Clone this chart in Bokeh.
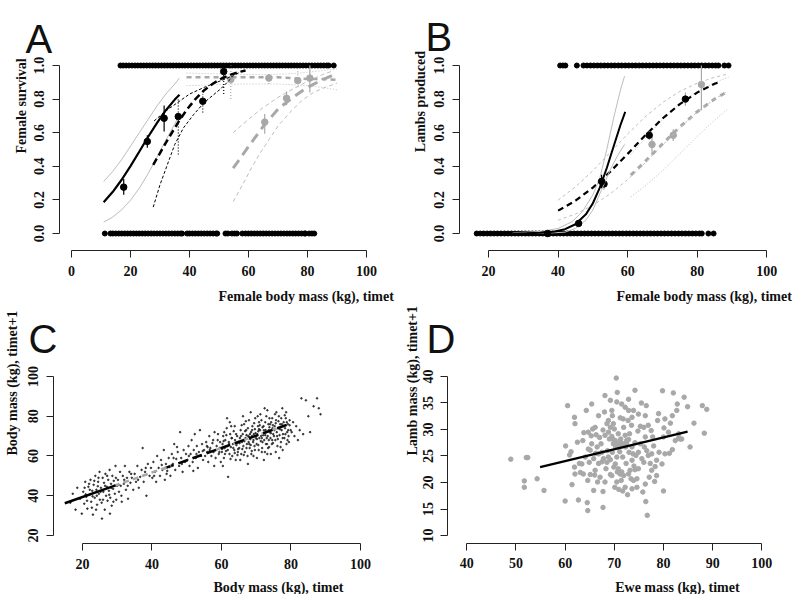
import math
from bokeh.plotting import figure
from bokeh.models import Range1d, FixedTicker, PrintfTickFormatter, Label
from bokeh.layouts import gridplot
from bokeh.embed import file_html
from bokeh.resources import INLINE

SERIF = "Liberation Serif"
SANS = "Liberation Sans"
BLACK = "#000000"
GREY = "#a8a8a8"
LGREY = "#bdbdbd"

# ======================= Panel A: female survival =======================
A_alive_x = [16.6, 17.5, 18.5, 19.5, 20.5, 21.5, 22.5, 23.5, 24.5, 25.5, 26.5, 27.5, 28.5, 29.5,
             30.5, 31.5, 32.5, 33.5, 34.5, 35.5, 36.5, 37.5, 38.5, 39.5, 40.5, 41.5, 42.5, 43.5,
             44.5, 45.5, 46.5, 47.5, 48.5, 49.5, 50.5, 51.5, 52.5, 53.5, 54.5, 55.5, 56.5, 57.5,
             58.5, 59.5, 60.5, 61.5, 62.5, 63.5, 64.5, 65.5, 66.5, 67.5, 68.5, 69.5, 70.5, 71.5,
             72.5, 73.5, 74.5, 75.5, 76.5, 77.5, 78.5, 79.5, 80.5, 81.5, 82.5, 83.5, 84.5, 85.5,
             86.5, 87.2, 88.9]
A_dead_x = [11.3, 13.2, 14, 15, 16, 17, 18, 19, 20, 21, 22, 23, 24, 25, 26, 27, 28, 29, 30, 31,
            32, 33, 34, 35, 36, 37, 37.5, 39.2, 40, 41, 42, 43, 44, 45, 46, 47, 48, 49, 49.4,
            52.2, 53, 54.4, 55.3, 56.1, 57.9, 59, 60, 61, 62, 63, 64, 65, 66, 67, 68, 69, 70, 71,
            72, 73, 74, 75, 76, 77, 78, 79, 79.3, 80.6, 81.5, 82.3]
A_lamb_x = [10.9, 14, 17, 20, 23, 26, 29, 32, 35, 36.6]
A_lamb_y = [0.186, 0.248, 0.320, 0.401, 0.488, 0.576, 0.659, 0.734, 0.797, 0.826]
A_lamb_hi = [0.31, 0.37, 0.44, 0.52, 0.60, 0.68, 0.76, 0.83, 0.89, 0.925]
A_lamb_lo = [0.068, 0.098, 0.141, 0.198, 0.270, 0.357, 0.455, 0.556, 0.653, 0.70]
A_year_x = [27.7, 30, 33, 36, 39, 42, 45, 48, 51, 54, 57, 59]
A_year_y = [0.409, 0.479, 0.570, 0.657, 0.735, 0.800, 0.853, 0.893, 0.924, 0.946, 0.962, 0.970]
A_year_lo_x = [27.7, 30, 32.5, 35, 38, 41.5, 45, 50.5, 54.5]
A_year_lo = [0.157, 0.29, 0.41, 0.53, 0.63, 0.71, 0.78, 0.86, 0.93]
A_year_hi_x = [28, 32, 36, 40, 45, 50, 55, 58.5]
A_year_hi = [0.67, 0.73, 0.78, 0.83, 0.87, 0.905, 0.94, 0.975]
A_adult_x = [39, 45, 50, 55, 60, 65, 70, 75, 80, 85, 90]
A_adult_y = [0.93, 0.93, 0.93, 0.93, 0.93, 0.93, 0.93, 0.925, 0.92, 0.92, 0.915]
A_adult_hi = [0.955, 0.952, 0.95, 0.948, 0.946, 0.946, 0.948, 0.952, 0.96, 0.97, 0.98]
A_adult_lo = [0.88, 0.883, 0.886, 0.889, 0.89, 0.89, 0.89, 0.885, 0.88, 0.87, 0.855]
A_sen_x = [54.8, 60, 65, 70, 75, 80, 85, 88.9]
A_sen_y = [0.389, 0.517, 0.638, 0.74, 0.81, 0.87, 0.915, 0.945]
A_sen_hi = [0.60, 0.68, 0.75, 0.81, 0.86, 0.905, 0.945, 0.97]
A_sen_lo_x = [54.8, 58, 61, 64, 67, 70, 74, 78, 82, 86, 90]
A_sen_lo = [0.19, 0.29, 0.39, 0.48, 0.56, 0.64, 0.72, 0.79, 0.84, 0.87, 0.895]
A_lamb_pt_x = [17.7, 25.7, 31.4]
A_lamb_pt_y = [0.276, 0.548, 0.686]
A_lamb_pt_lo = [0.23, 0.51, 0.607]
A_lamb_pt_hi = [0.325, 0.585, 0.762]
A_year_pt_x = [36.2, 44.5, 51.6]
A_year_pt_y = [0.696, 0.787, 0.964]
A_year_pt_lo = [0.47, 0.72, 0.83]
A_year_pt_hi = [0.80, 0.83, 1.0]
A_adult_pt_x = [54.0, 66.9, 76.7]
A_adult_pt_y = [0.917, 0.925, 0.91]
A_adult_pt_lo = [0.80, 0.89, 0.87]
A_adult_pt_hi = [1.0, 0.96, 0.99]
A_sen_pt_x = [65.5, 72.9, 80.8]
A_sen_pt_y = [0.663, 0.805, 0.925]
A_sen_pt_lo = [0.594, 0.763, 0.84]
A_sen_pt_hi = [0.712, 0.845, 1.0]

# ======================= Panel B: lambs produced =======================
B_succ_x = [40.6, 41.4, 42.1, 45.4, 47.3, 48.3, 49.3, 50.3, 51.3, 52.3, 53.3, 54.3, 55.3, 56.3,
            57.3, 58.3, 59.3, 60.3, 61.3, 62.3, 63.3, 64.3, 65.3, 66.3, 67.3, 68.3, 69.3, 70.3,
            71.3, 72.3, 73.3, 74.3, 75.3, 76.3, 77.3, 78.3, 79.3, 80.3, 81.3, 82.3, 83.3, 84.3,
            85.3, 86.1, 87.8, 89.0]
B_fail_x = [16.6, 17.6, 18.6, 19.6, 20.6, 21.6, 22.6, 23.6, 24.6, 25.6, 26.6, 27.6, 28.6, 29.6,
            30.6, 31.6, 32.6, 33.6, 34.6, 35.6, 36.6, 37.6, 38.6, 39.6, 40.6, 41.6, 42.6, 43.6,
            44.6, 45.6, 46.6, 47.6, 48.6, 49.6, 50.6, 51.6, 52.6, 53.6, 54.6, 55.6, 56.6, 57.6,
            58.6, 59.6, 60.6, 61.6, 62.6, 63.6, 64.6, 65.6, 66.6, 67.6, 68.6, 69.6, 70.6, 71.6,
            72.6, 73.6, 74.6, 75.6, 76.6, 77.6, 78.6, 79.6, 80.6, 81.3, 83.2, 84.7]
B_lamb_x = [27, 31, 35, 39, 42, 45, 48, 50, 52, 54, 56, 58, 59.3]
B_lamb_y = [0.0005, 0.0014, 0.004, 0.0116, 0.0255, 0.055, 0.114, 0.180, 0.273, 0.39, 0.521, 0.65, 0.724]
B_lamb_hi_x = [27, 35, 40, 44, 47, 50, 52, 54, 56, 58, 59.1]
B_lamb_hi = [0.005, 0.012, 0.03, 0.07, 0.13, 0.23, 0.33, 0.50, 0.69, 0.86, 0.936]
B_lamb_lo_x = [27, 36, 42, 45, 48, 50, 52.5, 55, 57, 59.1]
B_lamb_lo = [0.0, 0.001, 0.008, 0.03, 0.08, 0.14, 0.26, 0.38, 0.46, 0.53]
B_year_x = [40, 45, 50, 55, 60, 65, 70, 75, 80, 85, 86.1]
B_year_y = [0.136, 0.195, 0.273, 0.368, 0.474, 0.583, 0.684, 0.770, 0.839, 0.891, 0.900]
B_year_ci_x = [40, 45, 50, 55, 60, 65, 70, 75, 80, 85, 88.5]
B_year_hi = [0.198, 0.278, 0.374, 0.483, 0.592, 0.694, 0.779, 0.846, 0.895, 0.930, 0.948]
B_year_lo = [0.079, 0.116, 0.168, 0.236, 0.321, 0.42, 0.526, 0.629, 0.723, 0.80, 0.843]
B_adult_x = [60.9, 65, 70, 75, 80, 85, 89]
B_adult_y = [0.347, 0.428, 0.533, 0.634, 0.725, 0.801, 0.849]
B_adult_lo = [0.218, 0.282, 0.373, 0.475, 0.578, 0.675, 0.744]
B_adult_hi = [0.47, 0.566, 0.678, 0.773, 0.847, 0.899, 0.93]
B_lamb_pt_x = [37.0, 45.9, 52.5]
B_lamb_pt_y = [0.0, 0.06, 0.31]
B_lamb_pt_lo = [0.0, 0.05, 0.27]
B_lamb_pt_hi = [0.0, 0.07, 0.35]
B_year_pt_x = [53.2, 66.2, 76.6]
B_year_pt_y = [0.295, 0.585, 0.80]
B_year_pt_lo = [0.26, 0.555, 0.76]
B_year_pt_hi = [0.33, 0.61, 0.84]
B_adult_pt_x = [67.0, 73.1, 81.2]
B_adult_pt_y = [0.53, 0.585, 0.887]
B_adult_pt_lo = [0.466, 0.55, 0.734]
B_adult_pt_hi = [0.575, 0.62, 1.0]

# ======================= Panel C: body mass t -> t+1 =======================
C_mass_t = [
    16.5, 17.2, 18, 18.5, 19.3, 19.8,
    20.2, 20.5, 20.8, 21.1, 21.4, 21.7, 22, 22.3, 22.5, 22.8, 23, 23.2, 23.5, 23.7, 24, 24.2, 24.5, 24.7, 24.9, 25, 23.9, 21.9, 22.9, 24.4, 20.9,
    25.3, 25.5, 25.6, 25.8, 26, 26.2, 26.4, 26.6, 26.8, 27, 27.2, 27.4, 27.6, 27.8, 28, 28.2, 28.4, 28.6, 28.8, 29, 29.3, 29.5, 29.7, 29.9, 27.9,
    30.2, 30.5, 30.8, 31, 31.3, 31.6, 31.9, 32.2, 32.5, 32.8, 33.1, 33.5, 33.8, 34.2, 34.6,
    35, 35.4, 35.8, 36.2, 36.6, 37, 37.3, 37.6, 38, 38.4, 38.8, 39.3, 39.7,
    40.1, 40.4, 40.8, 41.2, 41.5, 41.9, 42.3, 42.6, 43, 43.4, 43.7, 44, 44.4, 44.8, 45,
    45.3, 45.7, 46, 46.4, 46.7, 47, 47.4, 47.8, 48.1, 48.4, 48.8, 49.1, 49.5, 49.8, 47.2,
    50.2, 50.5, 50.8, 51.1, 51.4, 51.7, 52, 52.3, 52.6, 52.9, 53.2, 53.5, 53.8, 54.1, 54.4, 54.7, 55, 51.9,
    55.3, 55.6, 55.9, 56.2, 56.5, 56.8, 57.1, 57.4, 57.7, 58, 58.3, 58.6, 58.9, 59.2, 59.5, 59.8, 56, 57.9, 58.4, 59, 59.6, 55.8,
    60.1, 60.3, 60.5, 60.7, 60.9, 61.1, 61.3, 61.5, 61.7, 61.9, 62.1, 62.3, 62.5, 62.7, 62.9, 63.1, 63.3, 63.5, 63.7, 63.9, 64.1, 64.3, 64.5, 64.7, 64.9, 61.6, 62.4, 63.8, 60.4, 64.6,
    65.1, 65.3, 65.5, 65.7, 65.9, 66.1, 66.3, 66.5, 66.7, 66.9, 67.1, 67.3, 67.5, 67.7, 67.9, 68.1, 68.3, 68.5, 68.7, 68.9, 69.1, 69.3, 69.5, 69.7, 69.9, 65.4, 66.2, 67.6, 68.4, 69.2, 66.6, 67.2, 68, 68.8, 69.6,
    70.1, 70.3, 70.5, 70.7, 70.9, 71.1, 71.3, 71.5, 71.7, 71.9, 72.1, 72.3, 72.5, 72.7, 72.9, 73.1, 73.3, 73.5, 73.7, 73.9, 74.1, 74.3, 74.5, 74.7, 74.9, 70.2, 71.2, 72.2, 73.2, 74.2, 70.6, 71.6, 72.6, 73.6, 74.6, 70.8, 71.8, 72.8, 73.8, 74.8,
    75.1, 75.3, 75.5, 75.7, 75.9, 76.1, 76.3, 76.5, 76.7, 76.9, 77.1, 77.3, 77.5, 77.7, 77.9, 78.1, 78.3, 78.5, 78.7, 78.9, 79.1, 79.3, 79.6, 79.9, 75.6, 76.6, 77.6, 78.6, 79.4, 75.4,
    80.2, 80.6, 81, 81.5, 82, 82.5, 83, 83.5, 84.3, 85, 85.5, 86.5, 87.5, 88, 88.5]
C_mass_t1 = [
    36.5, 41, 33, 44, 38.5, 31,
    42, 36, 47, 39.5, 33.5, 44.5, 40.5, 48, 37, 42.5, 30.5, 45.5, 39, 50, 43, 35.5, 47, 41, 52, 38, 33, 46, 39.7, 44.8, 40.7,
    44, 36.5, 28.5, 49, 42, 46.5, 33, 51, 40, 44.5, 37.5, 48, 42.5, 53, 39, 46, 35, 50, 43.5, 47.5, 41, 55, 38, 45, 31,
    48, 42, 52, 45, 37, 50, 46, 55, 43, 49, 38.5, 52, 46.5, 49, 43,
    51, 47, 55, 44, 49.5, 53, 64, 47, 52, 40, 56, 50, 54,
    49, 57, 52, 47, 60, 54, 50, 58, 53, 63, 48, 56, 52.5, 59, 54.5,
    50, 61, 56, 66, 53, 58.5, 62, 55, 72, 59, 52, 63, 57, 61, 64.5,
    58, 65, 55, 61, 68, 57, 63, 71, 59, 65, 54, 62, 73, 60, 66, 58, 63, 52.5,
    60, 67, 62, 57, 70, 64, 60, 66.5, 62, 72, 59, 65, 68, 61, 64, 57, 64.5, 55, 63, 71, 67, 65,
    62, 66, 70, 59, 64, 68, 62.5, 74, 65, 49.5, 67, 61, 71, 64.5, 69, 60, 66, 72.5, 63, 68, 58, 65.5, 70, 62, 67, 79, 77, 75, 55, 60.5,
    64, 69, 73, 61, 67, 71, 65, 76, 62, 69, 73, 66, 60, 70, 78, 64, 68.5, 72, 62.5, 75, 67, 71, 65, 79, 69, 58, 80, 56, 82, 60, 67.5, 70.5, 66, 70, 73.5,
    66, 71, 75, 63, 69, 73, 67.5, 78, 64, 71, 75, 68, 62, 73, 80, 66, 70, 76, 64.5, 72, 69, 77, 66, 74, 71, 59, 81, 58, 83, 61, 72.5, 69, 70.5, 73, 68, 77, 74.5, 66, 79, 75.5,
    70, 75, 68, 78, 72, 65, 74, 80, 70.5, 76, 67, 73, 84, 71, 77, 69, 74, 79, 66, 72, 76, 70, 78, 73, 62, 59, 63, 82, 67, 81,
    72, 77, 70, 75, 68, 73, 89, 71, 88, 80, 72, 85, 89, 84, 81]
C_extra_t = [
    60.2, 60.6, 61.0, 61.4, 61.8, 62.2, 62.6, 63.0, 63.4, 63.8, 64.2, 64.6, 64.8, 60.8, 62.8,
    65.2, 65.6, 66.0, 66.4, 66.8, 67.2, 67.6, 68.0, 68.4, 68.8, 69.2, 69.6, 69.8, 65.8, 67.0, 68.6, 66.4, 69.4, 67.8, 68.2,
    70.2, 70.6, 71.0, 71.4, 71.8, 72.2, 72.6, 73.0, 73.4, 73.8, 74.2, 74.6, 74.8, 70.4, 71.6, 72.4, 73.2, 74.0, 70.8, 72.0, 73.6, 74.4,
    75.2, 75.6, 76.0, 76.4, 76.8, 77.2, 77.6, 78.0, 78.4, 78.8, 79.2, 79.6, 75.8, 77.0, 78.2, 79.0, 76.2, 77.4,
    20.6, 21.3, 22.1, 22.7, 23.4, 24.1, 24.6, 25.2, 25.9, 26.5, 27.1, 27.7, 28.3, 28.9, 29.6, 30.4, 31.2, 32, 33, 34,
    36, 38.2, 40.6, 42.8, 44.2, 46.2, 48.6, 50.6, 52.8, 54.6, 56.6, 57.6, 59.4]
C_extra_t1 = [
    63.5, 67.5, 61, 70.5, 63, 66, 58.5, 69, 64, 61.5, 71, 66.5, 63.5, 72, 75,
    66.5, 70, 63.5, 68, 72.5, 64, 74, 69.5, 65.5, 73, 68, 63, 71.5, 75.5, 77.5, 61, 60.5, 76.5, 67, 71,
    68.5, 65.5, 75.5, 70, 67, 73, 77, 69, 64, 74.5, 71.5, 79, 66.5, 80, 62, 84, 61, 76, 73.5, 70.5, 68, 73,
    73, 76.5, 70, 77.5, 73.5, 79, 69, 75, 71, 77, 73, 75.5, 82, 64.5, 80.5, 68, 68.5, 76,
    44, 37.5, 43, 34, 47.5, 40, 49, 42, 38, 45, 50, 40.5, 44, 37, 49, 45.5, 40, 48, 45, 51,
    48, 54, 50, 55.5, 51, 59, 56, 60, 61, 62.5, 63, 68, 62]
C_lamb_x = [14.9, 29.5]
C_lamb_y = [36.2, 45.2]
C_year_x = [29.0, 45.5]
C_year_y = [44.9, 55.1]
C_adult_x = [43.5, 80.1]
C_adult_y = [53.8, 76.5]
C_sen_x = [58.0, 79.0]
C_sen_y = [62.8, 75.8]

# ======================= Panel D: lamb mass vs ewe mass =======================
D_ewe = [
    48.95, 52.1, 52.4, 51.7, 51.7, 54.3, 55.7, 60.0, 60.1, 60.5,
    60.9, 61.2, 61.4, 61.9, 62.0, 62.5, 62.7, 62.9, 63.6, 63.8,
    64.3, 64.5, 64.6, 64.6, 64.7, 64.9, 65.1, 65.3, 65.4, 65.6,
    65.8, 66.0, 66.2, 66.3, 66.5, 66.6, 66.8, 67.0, 67.3, 67.5,
    67.7, 67.7, 67.7, 68.0, 68.1, 68.3, 68.5, 68.6, 68.8, 69.0,
    69.2, 69.2, 69.5, 69.6, 69.6, 69.8, 69.9, 70.0, 70.1, 70.2,
    70.3, 70.4, 70.5, 70.6, 70.6, 70.8, 70.9, 71.0, 71.1, 71.2,
    71.3, 71.4, 71.5, 71.7, 71.7, 71.8, 71.9, 72.2, 72.3, 72.4,
    72.5, 72.7, 72.8, 72.9, 73.0, 73.1, 73.2, 73.4, 73.5, 73.6,
    73.8, 73.9, 74.0, 74.2, 74.2, 74.4, 74.6, 74.8, 74.9, 75.3,
    75.5, 75.6, 75.8, 76.0, 76.1, 76.3, 76.4, 76.5, 76.6, 76.7,
    76.9, 77.1, 77.3, 77.5, 77.8, 78.0, 78.2, 78.3, 78.6, 78.8,
    79.0, 79.1, 79.8, 80.0, 80.1, 80.3, 81.2, 81.8, 81.8, 82.0,
    82.4, 82.7, 82.8, 83.1, 83.4, 83.7, 84.2, 84.9, 85.4, 86.2,
    87.9, 88.3, 88.8, 83.1,
    68.1, 68.8, 69.5, 69.8, 70.5, 70.8, 71.2, 71.5, 72.2, 72.5,
    72.9, 66.8, 67.5, 67.8, 68.5, 69.2, 70.2, 70.8, 71.2, 71.9,
    72.9, 73.6, 74.2, 74.9, 75.3, 76.0, 73.6, 72.9, 71.5, 70.5,
    69.2, 66.8, 66.1, 65.4, 64.7, 64.1, 63.4, 63.1, 63.7, 66.1,
    67.1, 68.1, 69.5, 70.5, 72.2, 73.6, 74.6, 76.3, 77.6, 78.6,
    79.7, 80.3, 81.0, 81.4, 80.0, 77.6, 76.9, 76.3, 74.9, 73.9,
    68.8, 69.8, 71.8, 65.8, 65.1, 61.9, 62.0]
D_lamb = [
    24.4, 24.7, 24.7, 20.3, 19.1, 20.7, 18.5, 16.5, 26.9, 34.5,
    25.2, 25.8, 19.6, 32.3, 31.1, 27.6, 16.7, 23.6, 27.9, 29.4,
    33.6, 16.2, 14.7, 20.4, 26.3, 23.8, 21.5, 28.8, 34.8, 30.1,
    18.5, 21.4, 25.5, 29.0, 26.7, 20.1, 23.6, 28.5, 27.3, 23.9,
    18.3, 15.3, 29.9, 33.3, 36.4, 22.6, 31.1, 26.0, 24.8, 28.2,
    21.5, 30.4, 33.6, 32.6, 25.7, 27.3, 22.9, 30.1, 19.1, 27.9,
    26.7, 39.7, 24.8, 37.0, 22.0, 29.2, 18.7, 27.3, 25.8, 32.2,
    28.2, 20.4, 22.0, 24.8, 18.4, 27.3, 30.4, 34.2, 26.7, 23.6,
    27.9, 17.7, 31.7, 35.7, 25.7, 29.2, 22.3, 20.7, 30.8, 26.7,
    25.4, 20.4, 23.1, 37.4, 27.5, 25.1, 20.7, 29.7, 22.6, 30.6,
    35.0, 24.5, 18.2, 23.8, 26.7, 28.6, 16.4, 34.5, 26.0, 13.8,
    25.1, 21.0, 23.6, 29.8, 28.6, 26.9, 20.2, 23.0, 24.2, 31.7,
    33.0, 25.7, 37.3, 18.4, 30.3, 32.0, 25.5, 26.2, 32.6, 36.9,
    27.9, 33.6, 34.8, 28.4, 28.2, 28.2, 36.1, 34.3, 26.7, 31.2,
    34.5, 29.3, 33.8, 29.2,
    28.9, 29.5, 28.7, 28.1, 27.3, 26.7, 27.6, 26.9, 28.9, 27.3,
    28.1, 25.4, 25.7, 24.5, 23.8, 24.3, 23.5, 22.6, 21.6, 21.3,
    21.6, 24.2, 22.4, 25.7, 27.3, 30.4, 32.3, 33.6, 34.8, 35.2,
    35.5, 32.6, 30.4, 27.3, 29.5, 24.8, 23.5, 21.9, 21.6, 22.3,
    21.0, 20.1, 21.3, 20.1, 19.1, 18.8, 19.1, 19.7, 22.3, 21.3,
    23.5, 25.4, 29.5, 31.2, 28.6, 25.4, 30.8, 32.6, 32.9, 33.6,
    31.7, 31.1, 32.0, 24.5, 26.1, 22.9, 21.6]
D_line_x = [54.9, 84.9]
D_line_y = [22.9, 29.6]

A_xticks = [0, 20, 40, 60, 80, 100]
P_yticks = [0.0, 0.2, 0.4, 0.6, 0.8, 1.0]
B_xticks = [20, 40, 60, 80, 100]
C_ticks = [20, 40, 60, 80, 100]
D_xticks = [40, 50, 60, 70, 80, 90, 100]
D_yticks = [10, 15, 20, 25, 30, 35, 40]

TICK_FS = "14px"
TITLE_FS = "14px"
TOP_H = 304
BOT_H = 290
COL_W = 398


def make_fig(w, h, xr, yr):
    p = figure(width=w, height=h, x_range=Range1d(*xr), y_range=Range1d(*yr),
               output_backend="svg", toolbar_location=None, title=None,
               min_border=0, min_border_left=0, min_border_right=0,
               min_border_top=0, min_border_bottom=0)
    p.outline_line_color = None
    p.xgrid.visible = False
    p.ygrid.visible = False
    p.background_fill_color = "white"
    p.border_fill_color = "white"
    return p


def style_axes(p, xfix, xb, xt, yfix, yb, yt, yfmt=None):
    p.xaxis.fixed_location = xfix
    p.yaxis.fixed_location = yfix
    for ax, b, t in ((p.xaxis, xb, xt), (p.yaxis, yb, yt)):
        ax.bounds = b
        ax.ticker = FixedTicker(ticks=t)
        ax.axis_line_color = "#222222"
        ax.axis_line_width = 1
        ax.major_tick_line_color = "#222222"
        ax.major_tick_out = 7
        ax.major_tick_in = 0
        ax.minor_tick_line_color = None
        ax.major_label_text_font = SERIF
        ax.major_label_text_font_style = "bold"
        ax.major_label_text_font_size = TICK_FS
        ax.major_label_text_color = "#111111"
        ax.major_label_standoff = 8
    p.yaxis.major_label_orientation = "vertical"
    if yfmt:
        p.yaxis.formatter = PrintfTickFormatter(format=yfmt)


def add_text(p, x, y, text, size=TITLE_FS, font=SERIF, style="bold", angle=0.0):
    p.add_layout(Label(x=x, y=y, text=text, text_font=font, text_font_size=size,
                       text_font_style=style, angle=angle, text_align="left",
                       text_baseline="alphabetic", text_color="#111111"))


def err(p, xs, ys, lo, hi, color, dash="solid", size=6.5):
    p.segment(x0=xs, y0=lo, x1=xs, y1=hi, line_color=color, line_width=1.2, line_dash=dash)
    p.scatter(xs, ys, size=size, color=color)


# ---------------------------- Panel A ----------------------------
pA = make_fig(COL_W, TOP_H, (-24.07, 110.85), (-0.4226, 1.3869))
style_axes(pA, -0.1012, (0, 100), A_xticks, -4.07, (0, 1), P_yticks, "%.1f")
pA.scatter(A_alive_x, 1.0, size=5, color=BLACK)
pA.scatter(A_dead_x, 0.0, size=5, color=BLACK)
pA.line(A_adult_x, A_adult_hi, line_color=LGREY, line_width=1, line_dash="1 2")
pA.line(A_adult_x, A_adult_lo, line_color=LGREY, line_width=1, line_dash="1 2")
pA.line(A_adult_x, A_adult_y, line_color=GREY, line_width=2.5, line_dash="5 4")
err(pA, A_adult_pt_x, A_adult_pt_y, A_adult_pt_lo, A_adult_pt_hi, GREY, "1 2")
pA.line(A_sen_x, A_sen_hi, line_color=LGREY, line_width=1, line_dash="4 3")
pA.line(A_sen_lo_x, A_sen_lo, line_color=LGREY, line_width=1, line_dash="4 3")
pA.line(A_sen_x, A_sen_y, line_color=GREY, line_width=3, line_dash="10 6")
err(pA, A_sen_pt_x, A_sen_pt_y, A_sen_pt_lo, A_sen_pt_hi, GREY)
pA.line(A_lamb_x, A_lamb_hi, line_color=LGREY, line_width=1)
pA.line(A_lamb_x, A_lamb_lo, line_color=LGREY, line_width=1)
pA.line(A_lamb_x, A_lamb_y, line_color=BLACK, line_width=2.2)
err(pA, A_lamb_pt_x, A_lamb_pt_y, A_lamb_pt_lo, A_lamb_pt_hi, BLACK)
pA.line(A_year_lo_x, A_year_lo, line_color=BLACK, line_width=1, line_dash="3 2")
pA.line(A_year_hi_x, A_year_hi, line_color=BLACK, line_width=1, line_dash="3 2")
pA.line(A_year_x, A_year_y, line_color=BLACK, line_width=2.5, line_dash="7 4")
err(pA, A_year_pt_x, A_year_pt_y, A_year_pt_lo, A_year_pt_hi, BLACK, "1 2")
add_text(pA, -15.59, 1.159, "A", size="40px", font=SANS, style="normal")
add_text(pA, 49.83, -0.375, "Female body mass (kg), timet")
add_text(pA, -16.95, 0.476, "Female survival", angle=math.pi / 2)

# ---------------------------- Panel B ----------------------------
pB = make_fig(COL_W, TOP_H, (-5.87, 108.53), (-0.4226, 1.3869))
style_axes(pB, -0.1012, (20, 100), B_xticks, 11.66, (0, 1), P_yticks, "%.1f")
pB.scatter(B_succ_x, 1.0, size=5, color=BLACK)
pB.scatter(B_fail_x, 0.0, size=5, color=BLACK)
pB.line(B_adult_x, B_adult_hi, line_color=LGREY, line_width=1, line_dash="1 2")
pB.line(B_adult_x, B_adult_lo, line_color=LGREY, line_width=1, line_dash="1 2")
pB.line(B_adult_x, B_adult_y, line_color=GREY, line_width=3, line_dash="5 5")
err(pB, B_adult_pt_x, B_adult_pt_y, B_adult_pt_lo, B_adult_pt_hi, GREY)
pB.line(B_year_ci_x, B_year_hi, line_color=LGREY, line_width=1, line_dash="3 3")
pB.line(B_year_ci_x, B_year_lo, line_color=LGREY, line_width=1, line_dash="3 3")
pB.line(B_year_x, B_year_y, line_color=BLACK, line_width=2.2, line_dash="6 4")
pB.segment(x0=B_year_pt_x, y0=B_year_pt_lo, x1=B_year_pt_x, y1=B_year_pt_hi,
           line_color=GREY, line_width=1.2)
pB.scatter(B_year_pt_x, B_year_pt_y, size=6.5, color=BLACK)
pB.line(B_lamb_hi_x, B_lamb_hi, line_color=LGREY, line_width=1)
pB.line(B_lamb_lo_x, B_lamb_lo, line_color=LGREY, line_width=1)
pB.line(B_lamb_x, B_lamb_y, line_color=BLACK, line_width=2)
err(pB, B_lamb_pt_x, B_lamb_pt_y, B_lamb_pt_lo, B_lamb_pt_hi, BLACK)
add_text(pB, 1.89, 1.1667, "B", size="40px", font=SANS, style="normal")
add_text(pB, 56.79, -0.375, "Female body mass (kg), timet")
add_text(pB, 0.45, 0.484, "Lambs produced", angle=math.pi / 2)

# ---------------------------- Panel C ----------------------------
pC = make_fig(COL_W, BOT_H, (-3.60, 110.94), (-9.69, 136.23))
style_axes(pC, 15.97, (20, 100), C_ticks, 11.65, (20, 100), C_ticks)
pC.scatter(C_mass_t, C_mass_t1, size=1.6, color="#222222", alpha=0.85)
pC.scatter(C_extra_t, C_extra_t1, size=1.6, color="#222222", alpha=0.85)
pC.line(C_sen_x, C_sen_y, line_color=GREY, line_width=2.5, line_dash="6 4")
pC.line(C_adult_x, C_adult_y, line_color=BLACK, line_width=2.5, line_dash="10 5")
pC.line(C_year_x, C_year_y, line_color=GREY, line_width=2.5, line_dash="6 4")
pC.line(C_lamb_x, C_lamb_y, line_color=BLACK, line_width=2.5)
add_text(pC, 4.46, 119.12, "C", size="40px", font=SANS, style="normal")
add_text(pC, 57.70, -6.16, "Body mass (kg), timet")
add_text(pC, -0.14, 60.25, "Body mass (kg), timet+1", angle=math.pi / 2)

# ---------------------------- Panel D ----------------------------
pD = make_fig(COL_W, BOT_H, (26.11, 107.05), (-1.13, 53.58))
style_axes(pD, 8.55, (40, 100), D_xticks, 36.14, (10, 40), D_yticks)
pD.scatter(D_ewe, D_lamb, size=4.5, color=GREY)
pD.line(D_line_x, D_line_y, line_color=BLACK, line_width=2.2)
add_text(pD, 31.80, 46.98, "D", size="40px", font=SANS, style="normal")
add_text(pD, 70.18, 0.189, "Ewe mass (kg), timet")
add_text(pD, 28.96, 25.09, "Lamb mass (kg), timet+1", angle=math.pi / 2)

grid = gridplot([[pA, pB], [pC, pD]], toolbar_location=None)
open("out.html", "w").write(file_html(grid, INLINE))
